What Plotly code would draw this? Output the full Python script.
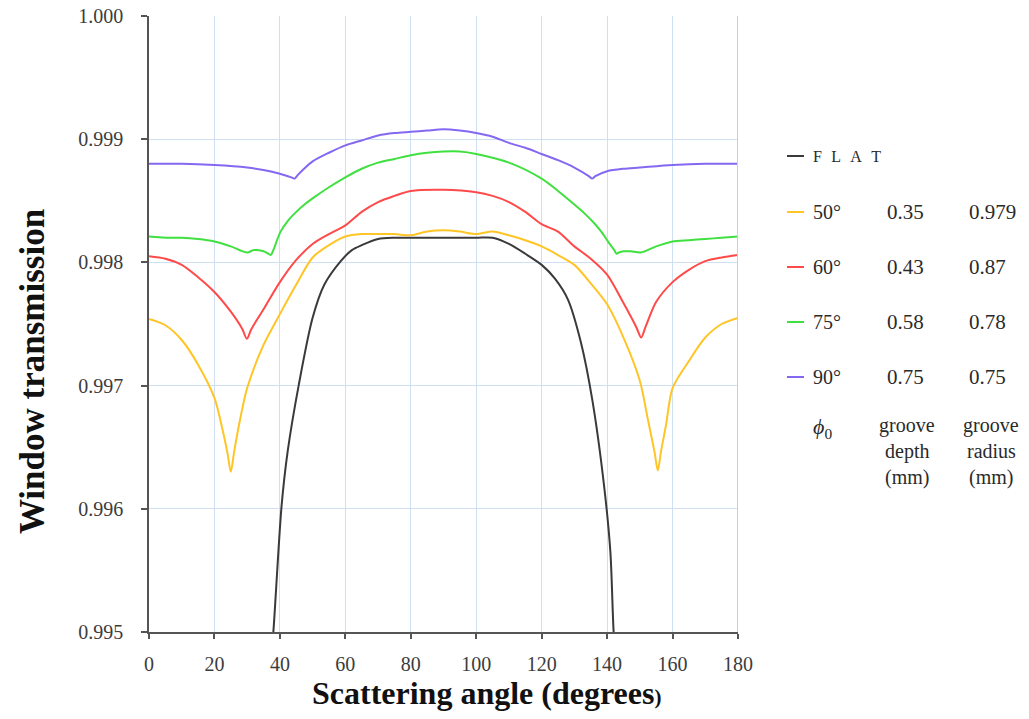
import plotly.graph_objects as go

# ---------------- data ----------------
flat_x = [37.6, 38.0, 40.5, 42.4, 45.8, 50.0, 53.6, 58.6, 62, 65, 70, 75, 80, 90, 100, 105,
          110, 115, 120, 124, 128, 132, 135.5, 139.1, 141.0, 142.0, 142.4]
flat_y = [0.99490, 0.99500, 0.99602, 0.99647, 0.99701, 0.99755, 0.99782, 0.99801, 0.99810, 0.99814,
          0.99819, 0.99820, 0.99820, 0.99820, 0.99820, 0.99820,
          0.99815, 0.99807, 0.99798, 0.99787, 0.99770, 0.99735, 0.99688, 0.99618, 0.99565, 0.99500, 0.99490]

p50_x = [0, 5, 10, 15, 20, 22.5, 24, 25, 26, 27.5, 30, 35, 40, 45, 50, 55, 60, 65, 70, 75, 80, 85, 90,
         95, 100, 105, 110, 115, 120, 125, 130, 135, 140, 145, 150, 152.5, 154.5, 155.5, 156.5, 158,
         160, 165, 170, 175, 180]
p50_y = [0.99754, 0.99749, 0.99737, 0.99717, 0.99690, 0.99664, 0.99645, 0.99630, 0.99646, 0.99668,
         0.99698, 0.99733, 0.99758, 0.99782, 0.99804, 0.99814, 0.99821, 0.99823, 0.99823, 0.99823,
         0.99822, 0.99825, 0.99826, 0.99825, 0.99823, 0.99825, 0.99822, 0.99818, 0.99813, 0.99806,
         0.99798, 0.99783, 0.99766, 0.99739, 0.99704, 0.99672, 0.99646, 0.99631, 0.99647, 0.99668,
         0.99698, 0.99720, 0.99739, 0.99750, 0.99755]

p60_x = [0, 5, 10, 15, 20, 25, 28.5, 29.9, 31.3, 35, 40, 45, 50, 55, 60, 65, 70, 75, 80, 90,
         100, 105, 110, 115, 120, 125, 130, 135, 140, 145, 149, 150.4, 151.8, 155, 160, 165, 170,
         175, 180]
p60_y = [0.99805, 0.99803, 0.99798, 0.99788, 0.99776, 0.99760, 0.99746, 0.99738, 0.99746, 0.99762,
         0.99784, 0.99802, 0.99815, 0.99823, 0.99830, 0.99841, 0.99849, 0.99854, 0.99858, 0.99859,
         0.99857, 0.99854, 0.99849, 0.99841, 0.99831, 0.99825, 0.99813, 0.99803, 0.99790, 0.99767,
         0.99747, 0.99739, 0.99748, 0.99768, 0.99784, 0.99794, 0.99801, 0.99804, 0.99806]

p75_x = [0, 5, 10, 15, 20, 25, 30, 32, 35, 36.5, 37.2, 38.0, 40.2, 42.5, 45, 47.5, 50, 55, 60, 65,
         70, 75, 80, 85, 90, 95, 100, 110, 120, 125, 130, 133, 136, 138.5, 140.5, 142.2, 142.9,
         143.6, 145, 147.2, 150.3, 155, 160, 165, 170, 175, 180]
p75_y = [0.99821, 0.99820, 0.99820, 0.99819, 0.99817, 0.99813, 0.99808, 0.99810, 0.99809, 0.99807,
         0.99806, 0.99810, 0.99825, 0.99834, 0.99841, 0.99847, 0.99852, 0.99861, 0.99869, 0.99876,
         0.99881, 0.99884, 0.99887, 0.99889, 0.99890, 0.99890, 0.99888, 0.99881, 0.99868, 0.99858,
         0.99847, 0.99840, 0.99832, 0.99824, 0.99816, 0.99810, 0.99807, 0.99808, 0.99809, 0.99809,
         0.99808, 0.99813, 0.99817, 0.99818, 0.99819, 0.99820, 0.99821]

p90_x = [0, 10, 20, 30, 35, 40, 43.5, 44.5, 45.5, 47, 50, 55, 60, 65, 70, 75, 80, 85, 90, 95, 100,
         105, 110, 115, 120, 125, 130, 134.4, 135.4, 136.4, 140, 145, 150, 160, 170, 180]
p90_y = [0.99880, 0.99880, 0.99879, 0.99877, 0.99875, 0.99872, 0.99869, 0.99868, 0.99871, 0.99875,
         0.99882, 0.99889, 0.99895, 0.99899, 0.99903, 0.99905, 0.99906, 0.99907, 0.99908, 0.99907,
         0.99905, 0.99902, 0.99897, 0.99893, 0.99888, 0.99883, 0.99877, 0.99870, 0.99868, 0.99870,
         0.99874, 0.99876, 0.99877, 0.99879, 0.99880, 0.99880]

series_names = ["FLAT", "50°", "60°", "75°", "90°"]
series_colors = ["#3a3a3a", "#FFC526", "#FF4A4A", "#3FE03F", "#8468F2"]
groove_depth = ["", "0.35", "0.43", "0.58", "0.75"]
groove_radius = ["", "0.979", "0.87", "0.78", "0.75"]

x_ticks = [0, 20, 40, 60, 80, 100, 120, 140, 160, 180]
y_ticks = [0.995, 0.996, 0.997, 0.998, 0.999, 1.000]

# ---------------- figure ----------------
W, H = 1029, 719
L, R, T, B = 149, 291, 16, 87
PW, PH = W - L - R, H - T - B


def px(xp):
    return (xp - L) / PW


def py(yp):
    return (H - B - yp) / PH


SERIF = "Liberation Serif, Times New Roman, serif"
TXT = "#2a2a2a"

fig = go.Figure()
xs = [flat_x, p50_x, p60_x, p75_x, p90_x]
ys = [flat_y, p50_y, p60_y, p75_y, p90_y]
for name, col, xx, yy in zip(series_names, series_colors, xs, ys):
    fig.add_trace(go.Scatter(x=xx, y=yy, mode="lines", name=name,
                             line=dict(color=col, width=2, shape="spline", smoothing=0.8),
                             showlegend=False))

fig.update_layout(
    width=W, height=H,
    margin=dict(l=L, r=R, t=T, b=B, pad=0),
    paper_bgcolor="white", plot_bgcolor="white",
    font=dict(family=SERIF, size=20, color="#3c3c3c"),
    xaxis=dict(range=[0, 180], tickvals=x_ticks, ticktext=[str(v) for v in x_ticks],
               showgrid=True, gridcolor="#d0e0f3", gridwidth=1.3,
               showline=True, linecolor="#555555", linewidth=1.5,
               ticks="outside", ticklen=5, tickcolor="#555555", tickwidth=1.5,
               ticklabelstandoff=8, zeroline=False, automargin=False,
               tickfont=dict(family=SERIF, size=20, color="#3c3c3c")),
    yaxis=dict(range=[0.995, 1.000], tickvals=y_ticks, tickformat=".3f",
               showgrid=True, gridcolor="#d0e0f3", gridwidth=1.3,
               showline=True, linecolor="#555555", linewidth=1.5,
               ticks="outside", ticklen=6, tickcolor="#555555", tickwidth=1.5,
               ticklabelstandoff=14, zeroline=False, automargin=False,
               tickfont=dict(family=SERIF, size=20, color="#3c3c3c")),
)

# right border line of the plot area at x = 180
fig.add_shape(type="line", xref="x", yref="paper", x0=180, x1=180, y0=0, y1=1,
              line=dict(color="#c9cfd8", width=2))

annotations = []
# axis titles
annotations.append(dict(text="<b>Window transmission</b>", xref="paper", yref="paper",
                        x=px(32), y=py(372), textangle=-90, showarrow=False,
                        xanchor="center", yanchor="middle",
                        font=dict(family=SERIF, size=35, color="#111111")))
annotations.append(dict(text="<b>Scattering angle (degrees<span style='font-size:21px'>)</span></b>",
                        xref="paper", yref="paper", x=px(486), y=py(693), showarrow=False,
                        xanchor="center", yanchor="middle",
                        font=dict(family=SERIF, size=32, color="#111111")))

# legend (swatches + table)
row_y = [156, 212, 267, 322, 377]
for i, (name, col) in enumerate(zip(series_names, series_colors)):
    yy = py(row_y[i])
    fig.add_shape(type="line", xref="paper", yref="paper", x0=px(787), x1=px(804),
                  y0=yy, y1=yy, line=dict(color=col, width=2))
    label = "F\u2002\u200aL\u2002\u200aA\u2002\u200aT" if name == "FLAT" else name
    annotations.append(dict(text=label, xref="paper", yref="paper", x=px(811), y=yy,
                            xanchor="left", yanchor="middle", showarrow=False,
                            font=dict(family=SERIF, size=20 if i else 16, color=TXT)))
    if groove_depth[i]:
        annotations.append(dict(text=groove_depth[i], xref="paper", yref="paper", x=px(885), y=yy,
                                xanchor="left", yanchor="middle", showarrow=False,
                                font=dict(family=SERIF, size=21, color=TXT)))
        annotations.append(dict(text=groove_radius[i], xref="paper", yref="paper", x=px(967), y=yy,
                                xanchor="left", yanchor="middle", showarrow=False,
                                font=dict(family=SERIF, size=21, color=TXT)))

annotations.append(dict(text="<i>ϕ</i><sub>0</sub>", xref="paper", yref="paper", x=px(811), y=py(428),
                        xanchor="left", yanchor="middle", showarrow=False,
                        font=dict(family=SERIF, size=22, color=TXT)))
for j, word in enumerate(["groove", "depth", "(mm)"]):
    annotations.append(dict(text=word, xref="paper", yref="paper", x=px(907), y=py(425 + 26 * j),
                            xanchor="center", yanchor="middle", showarrow=False,
                            font=dict(family=SERIF, size=20, color=TXT)))
for j, word in enumerate(["groove", "radius", "(mm)"]):
    annotations.append(dict(text=word, xref="paper", yref="paper", x=px(991), y=py(425 + 26 * j),
                            xanchor="center", yanchor="middle", showarrow=False,
                            font=dict(family=SERIF, size=20, color=TXT)))

fig.update_layout(annotations=annotations)

fig.write_html("out.html")
